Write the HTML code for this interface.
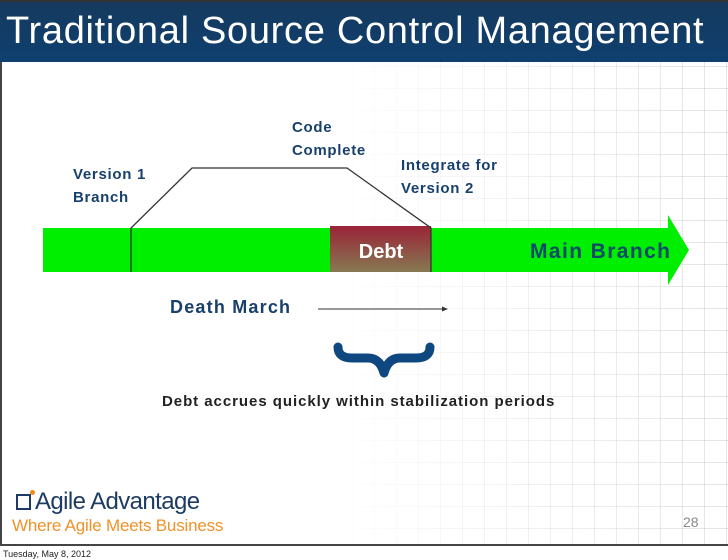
<!DOCTYPE html>
<html><head><meta charset="utf-8"><style>
body{margin:0;width:728px;height:560px;background:#fff;position:relative;overflow:hidden;font-family:"Liberation Sans",sans-serif}
.t{position:absolute;font-weight:bold;color:#17406d;font-size:15px;line-height:23px;letter-spacing:0.7px;white-space:nowrap}
</style></head><body>
<div style="position:absolute;left:0;top:0;width:728px;height:546px;background-image:linear-gradient(90deg,rgba(180,180,180,.35) 1px,transparent 1px),linear-gradient(rgba(180,180,180,.35) 1px,transparent 1px);background-size:22px 22px;"></div>
<div style="position:absolute;left:0;top:0;width:728px;height:546px;background:linear-gradient(90deg,#fff 0%,#fff 45%,rgba(255,255,255,0.3) 80%,rgba(255,255,255,0) 100%)"></div>
<div style="position:absolute;left:0;top:0;width:728px;height:546px;border-left:2px solid #444;border-bottom:2px solid #444;box-sizing:border-box"></div>
<div style="position:absolute;left:0;top:0;width:728px;height:62px;background:linear-gradient(#153a5e,#0f3f70);border-top:2px solid #333;box-sizing:border-box"></div>
<div style="position:absolute;left:6px;top:8px;color:#fff;font-size:38px;line-height:46px;white-space:nowrap;letter-spacing:0.7px">Traditional Source Control Management</div>
<svg style="position:absolute;left:0;top:0" width="728" height="560">
<defs><linearGradient id="g" x1="0" y1="0" x2="0" y2="1"><stop offset="0" stop-color="#9a2338"/><stop offset="1" stop-color="#867a52"/></linearGradient></defs>
<polygon points="43,228 668,228 668,215 689,250 668,285 668,272 43,272" fill="#00ee00"/>
<rect x="330" y="226" width="101" height="46" fill="url(#g)"/>
<polyline points="131,272 131,228 192,168 347,168 431,228 431,272" fill="none" stroke="#333" stroke-width="1.3"/>
<line x1="318" y1="309" x2="446" y2="309" stroke="#333" stroke-width="1"/>
<polygon points="448,309 442,306.5 442,311.5" fill="#333"/>
<text x="381" y="258" fill="#fff" font-weight="bold" font-size="20" text-anchor="middle" font-family="Liberation Sans,sans-serif">Debt</text>
<text x="530" y="258" fill="#0b4a6a" font-weight="bold" font-size="21" textLength="140" font-family="Liberation Sans,sans-serif">Main Branch</text>
<path d="M338,347 Q338,358 352,358 L368,358 Q380,358 384,373 Q388,358 400,358 L416,358 Q430,358 430,347" fill="none" stroke="#0f4780" stroke-width="9" stroke-linecap="round" stroke-linejoin="round"/>
</svg>
<div class="t" style="left:292px;top:116px">Code<br>Complete</div>
<div class="t" style="left:73px;top:163px">Version 1<br>Branch</div>
<div class="t" style="left:401px;top:154px">Integrate for<br>Version 2</div>
<div class="t" style="left:170px;top:296px;font-size:18px;letter-spacing:1.2px">Death March</div>
<div class="t" style="left:162px;top:390px;font-size:15px;color:#222;letter-spacing:0.95px">Debt accrues quickly within stabilization periods</div>
<div style="position:absolute;left:16px;top:494px;width:15px;height:16px;border:2px solid #1d3b63;box-sizing:border-box"></div>
<div style="position:absolute;left:30px;top:490px;width:5px;height:5px;border-radius:50%;background:#f08a1c"></div>
<div style="position:absolute;left:35px;top:489px;font-size:24px;color:#1d3b63;letter-spacing:-0.6px;line-height:26px;white-space:nowrap">Agile Advantage</div>
<div style="position:absolute;left:12px;top:515px;font-size:17px;color:#f0922a;letter-spacing:-0.2px;line-height:22px;white-space:nowrap">Where Agile Meets Business</div>
<div style="position:absolute;left:683px;top:514px;font-size:14px;color:#888">28</div>
<div style="position:absolute;left:3px;top:549px;font-size:9px;color:#222">Tuesday, May 8, 2012</div>
</body></html>
